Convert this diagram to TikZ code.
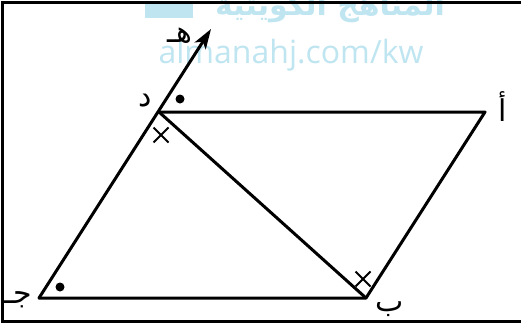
\documentclass[tikz,border=0pt]{standalone}
\usepackage{fontspec}
\usetikzlibrary{arrows.meta, shapes.misc}
\newfontfamily\arabicfont[Script=Arabic]{DejaVu Sans}
\newfontfamily\markfont{Open Sans}
\TeXXeTstate=1
\definecolor{wmblue}{HTML}{BFE5F1}

\begin{document}
\begin{tikzpicture}[x=1pt, y=-1pt,
    edge/.style={line width=3pt, line cap=round, line join=round},
    lbl/.style={font=\arabicfont\fontsize{30}{30}\selectfont, inner sep=0pt},
    dotmark/.style={circle, fill=black, inner sep=0pt, minimum size=9pt},
    crossmark/.style={draw, cross out, line width=2pt, inner sep=0pt, minimum size=13pt}
]
\useasboundingbox (0,0) rectangle (521,324);

% Watermark
\fill[wmblue] (145,2) rectangle (193,18);
\node[wmblue, font=\arabicfont\bfseries\fontsize{30}{30}\selectfont, anchor=base, inner sep=0pt] (wmar) at (330,15) {\beginR المناهج الكويتية\endR};
\node[wmblue, font=\markfont\fontsize{32}{32}\selectfont, anchor=base, inner sep=0pt] (wmsite) at (291,63) {almanahj.com/kw};

% Frame
\draw[line width=3pt] (2,2) rectangle (540,321);

% Vertices
\coordinate (A) at (485,112);
\coordinate (B) at (366,298);
\coordinate (C) at (39,298);
\coordinate (D) at (159,112);
\coordinate (E) at (211,29);

% Parallelogram and diagonal
\draw[edge] (D) -- (A) -- (B) -- (C);
\draw[edge] (D) -- (B);
\draw[edge, -{Stealth[length=20pt, width=13pt, inset=5pt]}] (C) -- (E);

% Angle marks
\node[dotmark] (dotD) at (180,99) {};
\node[dotmark] (dotC) at (60,287) {};
\node[crossmark] (crD) at (161,135) {};
\node[crossmark] (crB) at (363,279) {};

% Labels
\node[lbl] (lA) at (503,107) {\beginR أ\endR};
\node[lbl] (lB) at (390,309) {\beginR ب\endR};
\node[lbl] (lC) at (18,300) {\beginR جـ\endR};
\node[lbl] (lD) at (145,101) {\beginR د\endR};
\node[lbl] (lE) at (180,36) {\beginR هـ\endR};

\end{tikzpicture}
\end{document}
